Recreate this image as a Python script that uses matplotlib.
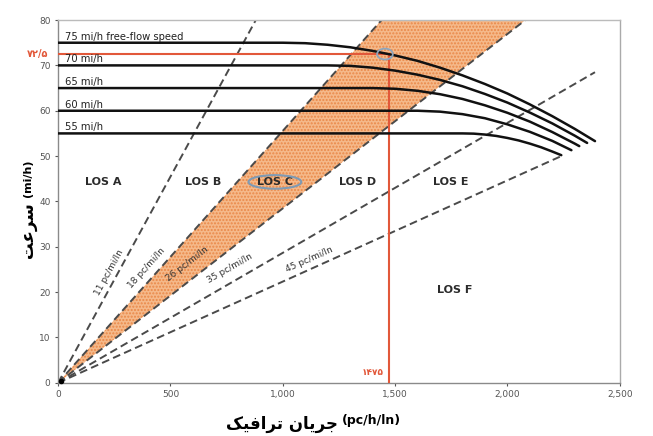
import matplotlib
matplotlib.use('Agg')
import matplotlib.pyplot as plt
from matplotlib.patches import Ellipse
import numpy as np

plt.rcParams['font.family'] = ['DejaVu Sans', 'Noto Sans']

# ── Speed-flow curves (flow pc/h/ln, speed mi/h) ─────────────────────────────
ffs_labels = ["75 mi/h free-flow speed", "70 mi/h", "65 mi/h", "60 mi/h", "55 mi/h"]
ffs_75_flow = [0, 1000, 1100, 1200, 1300, 1400, 1500, 1600, 1700, 1800, 1900, 2000, 2100, 2200, 2300, 2390]
ffs_75_speed = [75, 75, 74.9, 74.55, 74.0, 73.2, 72.2, 71.0, 69.5, 67.8, 65.9, 63.8, 61.4, 58.8, 56.0, 53.3]
ffs_70_flow = [0, 1200, 1300, 1400, 1500, 1600, 1700, 1800, 1900, 2000, 2100, 2200, 2300, 2355]
ffs_70_speed = [70, 70, 69.9, 69.5, 68.85, 67.95, 66.8, 65.4, 63.7, 61.8, 59.6, 57.2, 54.5, 52.9]
ffs_65_flow = [0, 1400, 1500, 1600, 1700, 1800, 1900, 2000, 2100, 2200, 2300, 2320]
ffs_65_speed = [65, 65, 64.85, 64.4, 63.65, 62.6, 61.2, 59.55, 57.6, 55.3, 52.75, 52.2]
ffs_60_flow = [0, 1600, 1700, 1800, 1900, 2000, 2100, 2200, 2285]
ffs_60_speed = [60, 60, 59.8, 59.25, 58.35, 57.0, 55.35, 53.35, 51.3]
ffs_55_flow = [0, 1800, 1850, 1900, 1950, 2000, 2050, 2100, 2150, 2200, 2240]
ffs_55_speed = [55, 55, 54.95, 54.75, 54.45, 54.0, 53.45, 52.75, 51.95, 51.0, 50.2]

# ── Density boundary lines (pc/mi/ln) ────────────────────────────────────────
densities = [11, 18, 26, 35, 45]
density_end_flow = [880, 1440, 2080, 2390, 2240]
density_end_speed = [80, 80, 80, 68.5, 50]

los_names = ["LOS A", "LOS B", "LOS C", "LOS D", "LOS E", "LOS F"]
los_flow = [200, 645, 965, 1335, 1750, 1765]
los_speed = [44.3, 44.3, 44.3, 44.3, 44.3, 20.5]

# operating point
op_flow = 1475
op_speed = 72.5
op_flow_label = "۱۴۷۵"
op_speed_label = "۷۲/۵"

x_ticks = [0, 500, 1000, 1500, 2000, 2500]
x_tick_labels = ["0", "500", "1,000", "1,500", "2,000", "2,500"]
y_ticks = [0, 10, 20, 30, 40, 50, 60, 70, 80]

RED = '#e2583a'
DASH = '#4a4a4a'

fig = plt.figure(figsize=(6.53, 4.36), dpi=100)
ax = fig.add_axes([0.089, 0.122, 0.860, 0.832])

# LOS C band (between 18 and 26 pc/mi/ln)
ax.fill([0, density_end_flow[1], density_end_flow[2]], [0, density_end_speed[1], density_end_speed[2]],
        facecolor='#f5b98a', edgecolor='#ea8848', hatch='.....', linewidth=0, zorder=1)

# density lines
for k, fx, sy in zip(densities, density_end_flow, density_end_speed):
    ax.plot([0, fx], [0, sy], color=DASH, lw=1.4, dashes=(4, 2.2), zorder=2)

# speed-flow curves
curves = [(ffs_75_flow, ffs_75_speed), (ffs_70_flow, ffs_70_speed), (ffs_65_flow, ffs_65_speed),
          (ffs_60_flow, ffs_60_speed), (ffs_55_flow, ffs_55_speed)]
for (fx, sy), lab in zip(curves, ffs_labels):
    ax.plot(fx, sy, color='#111111', lw=1.8, solid_capstyle='round', zorder=4)
    ax.text(30, sy[0] + 0.25, lab, fontsize=7.2, color='#222222', va='bottom', ha='left', zorder=5)

# operating point lines
ax.plot([0, op_flow], [op_speed, op_speed], color=RED, lw=1.5, zorder=3)
ax.plot([op_flow, op_flow], [0, op_speed], color=RED, lw=1.5, zorder=3)
ax.add_patch(Ellipse((op_flow - 20, op_speed), 70, 2.4, fill=False, edgecolor='#8ea6bd', lw=1.3, zorder=5))
ax.text(-45, op_speed, op_speed_label, color=RED, fontsize=7, fontweight='bold',
        ha='right', va='center', clip_on=False)
ax.text(op_flow - 25, 1.2, op_flow_label, color=RED, fontsize=6.5, fontweight='bold',
        ha='right', va='bottom')

# density labels
dens_lab_flow = [228, 395, 575, 765, 1120]
dens_lab_speed = [24.3, 25.3, 26.2, 25.3, 27.3]
for k, fx, sy in zip(densities, dens_lab_flow, dens_lab_speed):
    ang = np.degrees(np.arctan2(1.0, k))
    ax.text(fx, sy, f"{k} pc/mi/ln", fontsize=6.5, color='#333333', rotation=ang,
            rotation_mode='anchor', transform_rotates_text=True, ha='center', va='center', zorder=5)

# LOS labels
for name, fx, sy in zip(los_names, los_flow, los_speed):
    ax.text(fx, sy, name, fontsize=8, fontweight='bold', color='#2b2b2b', ha='center', va='center', zorder=5)
ax.add_patch(Ellipse((los_flow[2], los_speed[2]), 235, 3.0, fill=False, edgecolor='#7f9ab3', lw=1.5, zorder=5))

ax.plot([15], [0.4], 'o', color='black', ms=3, zorder=6, clip_on=False)

ax.set_xlim(0, 2500)
ax.set_ylim(0, 80)
ax.set_xticks(x_ticks)
ax.set_xticklabels(x_tick_labels)
ax.set_yticks(y_ticks)
ax.tick_params(labelsize=6.5, colors='#555555', length=2, width=0.8)
for sp in ax.spines.values():
    sp.set_color('#8a8a8a')
    sp.set_linewidth(1.0)
ax.spines['top'].set_color('#bbbbbb')
ax.spines['right'].set_color('#aaaaaa')

# axis titles (Persian in presentation forms, visual order)
fig.text(0.431, 0.028, "ﮏﯿﻓﺍﺮﺗ ﻥﺎﯾﺮﺟ", fontsize=12, fontweight='bold', ha='center', va='center')
fig.text(0.569, 0.036, "(pc/h/ln)", fontsize=9, fontweight='bold', ha='center', va='center')
fig.text(0.043, 0.472, "ﺖﻋﺮﺳ", fontsize=12, fontweight='bold', rotation=90, ha='center', va='center')
fig.text(0.043, 0.592, "(mi/h)", fontsize=8, fontweight='bold', rotation=90, ha='center', va='center')

fig.savefig("out.png", dpi=100)
